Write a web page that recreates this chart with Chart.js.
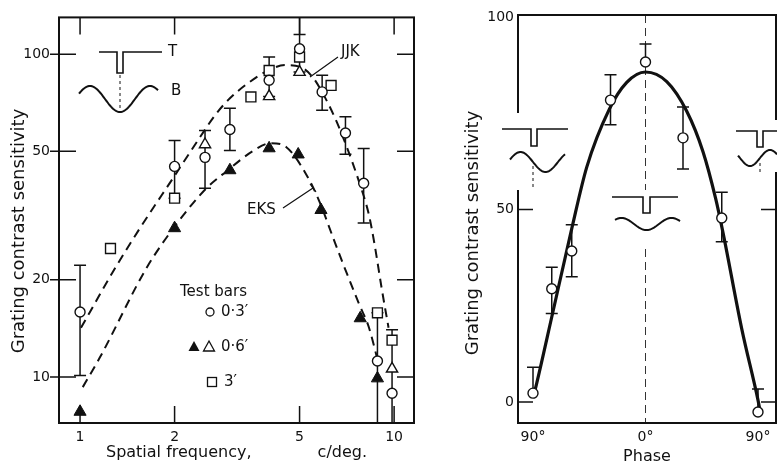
<!DOCTYPE html>
<html>
<head>
<meta charset="utf-8">
<script src="https://cdn.jsdelivr.net/npm/chart.js@4.4.1/dist/chart.umd.min.js"></script>
<style>
  html, body { margin: 0; padding: 0; background: #fff; overflow: hidden; }
  #wrap { position: relative; width: 777px; height: 466px; overflow: hidden; }
  #freq { position: absolute; left: 0; top: 0; width: 430px; height: 466px; }
  #phase { position: absolute; left: 430px; top: 0; width: 357px; height: 466px; }
</style>
</head>
<body>
<div id="wrap">
  <canvas id="freq" width="430" height="466"></canvas>
  <canvas id="phase" width="357" height="466"></canvas>
</div>
<script>
// ---- spatial frequency panel (log-log) ----
const freqTicks = [1, 2, 5, 10];
const sensTicks = [10, 20, 50, 100];

// test bars 0.3'
const circleFreq = [1, 2, 2.5, 3, 4, 5, 5.9, 7, 8, 8.85, 9.85];
const circleSens = [15.9, 44.9, 47.9, 58.4, 83, 104, 76.4, 57, 39.8, 11.2, 8.9];
// test bars 0.6' (EKS filled, JJK open)
const filledTriFreq = [1, 2, 3, 4, 4.95, 5.85, 7.8, 8.85];
const filledTriSens = [7.8, 28.9, 43.7, 51.1, 48.9, 32.9, 15.2, 9.9];
const openTriFreq = [2.5, 4, 5, 9.85];
const openTriSens = [52.5, 74, 88, 10.6];
// test bars 3'
const squareFreq = [1.25, 2, 3.5, 4, 5, 6.3, 8.85, 9.85];
const squareSens = [25.0, 35.8, 73.7, 89, 98, 80, 15.8, 13.0];

// error bars
const errFreq = [1, 2, 2.5, 3, 4, 5, 5, 5.9, 7, 8, 8.85, 9.85];
const errLow = [10.1, 35.8, 38.4, 50.3, 74, 88, 115, 67, 49, 30, 6, 6];
const errHigh = [22.2, 54, 58, 68, 98, 115, 150, 86, 64, 51, 15.8, 14.0];

// dashed curves
const jjkFreq = [1.007, 1.27, 1.53, 2.0, 2.4, 2.7, 3.0, 3.38, 3.92, 4.5, 5.0, 5.5, 6.0, 6.55, 7.1, 7.75, 8.3, 8.65, 9.13, 9.6];
const jjkSens = [14.2, 21.1, 28.3, 42, 55, 65, 73, 80.5, 88.5, 92.5, 91.5, 85, 74, 62, 51, 40, 32, 26, 18.8, 14.2];
const eksFreq = [1.02, 1.157, 1.63, 2.03, 2.53, 2.93, 3.54, 4.05, 4.54, 5.25, 5.78, 6.35, 6.75, 7.76, 8.3, 8.9];
const eksSens = [9.3, 11.5, 21.8, 29.8, 38.5, 43.4, 50, 53, 51.5, 42.4, 35, 27.5, 23.5, 16.7, 14.3, 11.1];

// ---- phase panel ----
const phaseTicks = [-90, 0, 90];
const phaseSensTicks = [0, 50, 100];
const phaseDeg = [-90, -75, -59, -28, 0, 30, 61, 90];
const phaseSens = [2.3, 29.4, 39.2, 78.4, 88.3, 68.6, 47.8, -2.6];
const phaseErrLow = [null, 23, 32.5, 72, null, 60.5, 41.6, null];
const phaseErrHigh = [9, 35, 46, 85, 93, 76.6, 54.5, 3.4];
const fitPhase = [-90, -87, -74, -59, -47, -29, -15, 0, 17, 33, 46, 56, 62, 77, 90, 91.5];
const fitSens = [1, 4.9, 23.5, 45, 61, 76, 83, 85.7, 83.2, 75.5, 65, 53, 44, 19, 0.5, -2];

const ink = '#111';
const face = '"DejaVu Sans", sans-serif';

function pts(xs, ys) {
  return xs.map((x, i) => ({ x: x, y: ys[i] }));
}

function drawErrorBars(chart, xs, lows, highs, ys) {
  const { ctx, chartArea: a, scales: { x, y } } = chart;
  ctx.save();
  ctx.beginPath();
  ctx.rect(a.left, a.top, a.right - a.left, a.bottom - a.top);
  ctx.clip();
  ctx.strokeStyle = ink;
  ctx.lineWidth = 1.5;
  ctx.beginPath();
  xs.forEach((xv, i) => {
    const px = x.getPixelForValue(xv);
    const lo = lows[i] == null ? ys[i] : lows[i];
    const pLo = y.getPixelForValue(lo);
    const pHi = y.getPixelForValue(highs[i]);
    ctx.moveTo(px, pLo); ctx.lineTo(px, pHi);
    ctx.moveTo(px - 6, pHi); ctx.lineTo(px + 6, pHi);
    if (lows[i] != null) { ctx.moveTo(px - 6, pLo); ctx.lineTo(px + 6, pLo); }
  });
  ctx.stroke();
  ctx.restore();
}

// frame round the plot with short inward ticks
function drawFrame(chart, t) {
  const { ctx, chartArea: a, scales: { x, y } } = chart;
  ctx.save();
  ctx.strokeStyle = ink;
  ctx.lineWidth = 2;
  ctx.strokeRect(a.left, a.top, a.right - a.left, a.bottom - a.top);
  ctx.lineWidth = 1.5;
  ctx.beginPath();
  (t.left || []).forEach(v => { const p = y.getPixelForValue(v); ctx.moveTo(a.left - t.out, p); ctx.lineTo(a.left + t.len, p); });
  (t.right || []).forEach(v => { const p = y.getPixelForValue(v); ctx.moveTo(a.right - t.len, p); ctx.lineTo(a.right, p); });
  (t.top || []).forEach(v => { const p = x.getPixelForValue(v); ctx.moveTo(p, a.top); ctx.lineTo(p, a.top + t.len); });
  (t.bottom || []).forEach(v => { const p = x.getPixelForValue(v); ctx.moveTo(p, a.bottom - t.len); ctx.lineTo(p, a.bottom); });
  ctx.stroke();
  ctx.restore();
}

function sideTitle(ctx, text, cx, cy) {
  ctx.save();
  ctx.translate(cx, cy);
  ctx.rotate(-Math.PI / 2);
  ctx.fillStyle = ink;
  ctx.font = '18px ' + face;
  ctx.textAlign = 'center';
  ctx.textBaseline = 'middle';
  ctx.fillText(text, 0, 0);
  ctx.restore();
}

function wave(ctx, x0, x1, fn) {
  ctx.beginPath();
  for (let px = x0; px <= x1; px++) {
    if (px === x0) ctx.moveTo(px, fn(px)); else ctx.lineTo(px, fn(px));
  }
  ctx.stroke();
}

// bar profile with a notch, sitting above a grating
function notchLine(ctx, x0, x1, nx, ny, depth, w) {
  ctx.beginPath();
  ctx.moveTo(x0, ny);
  ctx.lineTo(nx - w / 2, ny);
  ctx.lineTo(nx - w / 2, ny + depth);
  ctx.lineTo(nx + w / 2, ny + depth);
  ctx.lineTo(nx + w / 2, ny);
  ctx.lineTo(x1, ny);
  ctx.stroke();
}

function dashV(ctx, px, y0, y1, dash) {
  ctx.save();
  ctx.setLineDash(dash);
  ctx.lineWidth = 1;
  ctx.beginPath();
  ctx.moveTo(px, y0); ctx.lineTo(px, y1);
  ctx.stroke();
  ctx.restore();
}

const markerStyle = {
  circle: { pointStyle: 'circle', pointRadius: 5, backgroundColor: '#fff', borderColor: ink, borderWidth: 1.4 },
  filledTri: { pointStyle: 'triangle', pointRadius: 7, backgroundColor: ink, borderColor: ink, borderWidth: 1 },
  openTri: { pointStyle: 'triangle', pointRadius: 6.5, backgroundColor: '#fff', borderColor: ink, borderWidth: 1.4 },
  square: { pointStyle: 'rect', pointRadius: 7, backgroundColor: '#fff', borderColor: ink, borderWidth: 1.4 }
};

const tickFont = { family: face, size: 14 };

new Chart(document.getElementById('freq'), {
  type: 'scatter',
  data: {
    datasets: [
      Object.assign({ data: pts(circleFreq, circleSens) }, markerStyle.circle),
      Object.assign({ data: pts(openTriFreq, openTriSens) }, markerStyle.openTri),
      Object.assign({ data: pts(squareFreq, squareSens) }, markerStyle.square),
      Object.assign({ data: pts(filledTriFreq, filledTriSens) }, markerStyle.filledTri),
      { data: pts(jjkFreq, jjkSens), showLine: true, pointRadius: 0, borderColor: ink, borderWidth: 2,
        borderDash: [9, 6], cubicInterpolationMode: 'monotone', order: 10 },
      { data: pts(eksFreq, eksSens), showLine: true, pointRadius: 0, borderColor: ink, borderWidth: 2,
        borderDash: [9, 6], cubicInterpolationMode: 'monotone', order: 10 }
    ]
  },
  options: {
    responsive: false,
    animation: false,
    devicePixelRatio: 1,
    layout: { padding: { top: 15, right: 16, left: 0, bottom: 0 } },
    plugins: { legend: { display: false }, tooltip: { enabled: false } },
    scales: {
      x: {
        type: 'logarithmic', min: 0.857, max: 11.57,
        afterBuildTicks: s => { s.ticks = freqTicks.map(v => ({ value: v })); },
        afterFit: s => { s.height = 43; },
        grid: { display: false, drawTicks: false }, border: { display: false },
        ticks: { color: ink, font: tickFont, padding: 6, autoSkip: false, maxRotation: 0, callback: v => String(v) },
        title: { display: true, text: 'Spatial frequency,             c/deg.', color: ink,
          font: { family: face, size: 16 }, padding: { top: 0, bottom: 4 } }
      },
      y: {
        type: 'logarithmic', min: 7.2, max: 130,
        afterBuildTicks: s => { s.ticks = sensTicks.map(v => ({ value: v })); },
        afterFit: s => { s.width = 59; },
        grid: { display: false, drawTicks: false }, border: { display: false },
        ticks: { color: ink, font: tickFont, padding: 9, callback: v => String(v) }
      }
    }
  },
  plugins: [{
    id: 'freqBars',
    beforeDatasetsDraw(chart) {
      drawErrorBars(chart, errFreq, errLow, errHigh, errLow);
    }
  }, {
    id: 'freqNotes',
    afterDraw(chart) {
      const ctx = chart.ctx;
      drawFrame(chart, { left: sensTicks, right: sensTicks, top: freqTicks, bottom: freqTicks, len: 17, out: 9 });
      sideTitle(ctx, 'Grating contrast sensitivity', 19, 231);
      ctx.save();
      ctx.strokeStyle = ink;
      ctx.fillStyle = ink;
      // T / B sketch
      ctx.lineWidth = 1.6;
      notchLine(ctx, 99, 162, 120, 52, 21, 6);
      ctx.lineWidth = 2;
      wave(ctx, 79, 158, px => 99 + 13 * Math.cos(2 * Math.PI * (px - 120) / 60));
      dashV(ctx, 120, 75, 111, [3, 3]);
      ctx.font = '15px ' + face;
      ctx.textBaseline = 'middle';
      ctx.textAlign = 'left';
      ctx.fillText('T', 168, 52);
      ctx.fillText('B', 171, 91);
      // curve labels
      ctx.fillText('JJK', 341, 52);
      ctx.fillText('EKS', 247, 210);
      ctx.lineWidth = 1.2;
      ctx.beginPath();
      ctx.moveTo(338, 57); ctx.lineTo(310, 77);
      ctx.moveTo(283, 208); ctx.lineTo(313, 188);
      ctx.moveTo(310, 184); ctx.lineTo(316, 192);
      ctx.stroke();
      // key
      ctx.fillText('Test bars', 180, 292);
      ctx.fillText('0·3′', 221, 312);
      ctx.fillText('0·6′', 221, 347);
      ctx.fillText('3′', 224, 382);
      ctx.lineWidth = 1.3;
      ctx.beginPath(); ctx.arc(210, 312, 4, 0, 2 * Math.PI); ctx.stroke();
      ctx.beginPath(); ctx.moveTo(194, 341); ctx.lineTo(199.5, 351); ctx.lineTo(188.5, 351); ctx.closePath(); ctx.fill();
      ctx.beginPath(); ctx.moveTo(209, 341); ctx.lineTo(214.5, 351); ctx.lineTo(203.5, 351); ctx.closePath(); ctx.stroke();
      ctx.strokeRect(207.5, 377.5, 9, 9);
      ctx.restore();
    }
  }]
});

new Chart(document.getElementById('phase'), {
  type: 'scatter',
  data: {
    datasets: [
      Object.assign({ data: pts(phaseDeg, phaseSens) }, markerStyle.circle),
      { data: pts(fitPhase, fitSens), showLine: true, pointRadius: 0, borderColor: ink, borderWidth: 3.2,
        cubicInterpolationMode: 'monotone', order: 10 }
    ]
  },
  options: {
    responsive: false,
    animation: false,
    devicePixelRatio: 1,
    layout: { padding: { top: 15, right: 11, left: 0, bottom: 0 } },
    plugins: { legend: { display: false }, tooltip: { enabled: false } },
    scales: {
      x: {
        type: 'linear', min: -102, max: 104.4,
        afterBuildTicks: s => { s.ticks = phaseTicks.map(v => ({ value: v })); },
        afterFit: s => { s.height = 43; },
        grid: { display: false, drawTicks: false }, border: { display: false },
        ticks: { color: ink, font: tickFont, padding: 6, autoSkip: false, maxRotation: 0, callback: v => Math.abs(v) + '°' },
        title: { display: true, text: 'Phase', color: ink, font: { family: face, size: 16 }, padding: { top: 0, bottom: 0 } }
      },
      y: {
        type: 'linear', min: -5.45, max: 100.5,
        afterBuildTicks: s => { s.ticks = phaseSensTicks.map(v => ({ value: v })); },
        afterFit: s => { s.width = 88; },
        grid: { display: false, drawTicks: false }, border: { display: false },
        ticks: { color: ink, font: tickFont, padding: 4, callback: v => String(v) }
      }
    }
  },
  plugins: [{
    id: 'phaseBars',
    beforeDatasetsDraw(chart) {
      const { ctx, chartArea: a, scales: { x } } = chart;
      ctx.save();
      ctx.strokeStyle = '#333';
      dashV(ctx, x.getPixelForValue(0), a.top, a.bottom, [8, 5]);
      ctx.restore();
      drawErrorBars(chart, phaseDeg, phaseErrLow, phaseErrHigh, phaseSens);
    }
  }, {
    id: 'phaseNotes',
    afterDraw(chart) {
      const ctx = chart.ctx;
      drawFrame(chart, { left: [0, 50], right: [0, 50], len: 15, out: 0 });
      sideTitle(ctx, 'Grating contrast sensitivity', 43, 233);
      ctx.save();
      ctx.fillStyle = '#fff';
      ctx.fillRect(82, 113, 12, 77);
      ctx.fillRect(210, 190, 12, 54);
      ctx.fillRect(340, 120, 12, 52);
      ctx.strokeStyle = ink;
      // bar on the falling edge
      ctx.lineWidth = 1.6;
      notchLine(ctx, 72, 138, 104, 129, 17, 6);
      ctx.lineWidth = 2;
      wave(ctx, 80, 135, px => 162 + 10 * Math.sin(2 * Math.PI * (px - 103) / 50));
      dashV(ctx, 103, 166, 188, [3, 3]);
      // bar on the trough
      ctx.lineWidth = 1.6;
      notchLine(ctx, 182, 248, 216.5, 197, 16, 7);
      ctx.lineWidth = 2;
      wave(ctx, 185, 250, px => 224 + 6 * Math.cos(2 * Math.PI * (px - 216.5) / 50));
      // bar on the rising edge
      ctx.lineWidth = 1.6;
      notchLine(ctx, 306, 352, 330, 131, 16, 6);
      ctx.lineWidth = 2;
      wave(ctx, 308, 347, px => 158 - 8 * Math.sin(2 * Math.PI * (px - 330) / 40));
      dashV(ctx, 330, 163, 174, [3, 3]);
      ctx.restore();
    }
  }]
});
</script>
</body>
</html>
